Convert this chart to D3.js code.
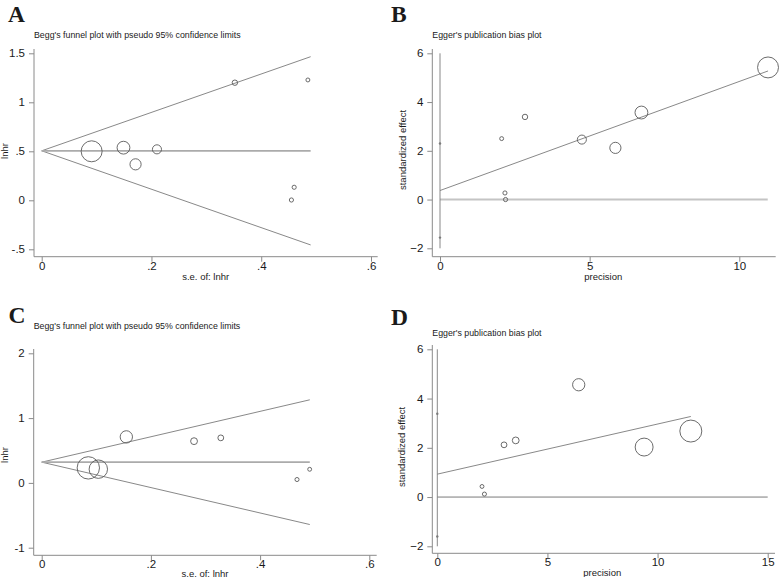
<!DOCTYPE html>
<html>
<head>
<meta charset="utf-8">
<script src="https://cdn.jsdelivr.net/npm/d3@7"></script>
<style>
  html, body { margin: 0; padding: 0; background: #fff; }
  svg { display: block; }
  text { font-family: "Liberation Sans", Arial, sans-serif; fill: #1a1a1a; }
</style>
</head>
<body>
<svg id="chart" width="779" height="577"></svg>
<script>
// ---------------- DATA ----------------
// Panel A: Begg's funnel plot (s.e. of lnhr vs lnhr)
const aSe     = [0.091, 0.149, 0.171, 0.210, 0.352, 0.485, 0.460, 0.455];
const aLnhr   = [0.500, 0.537, 0.367, 0.520, 1.200, 1.228, 0.133, 0.003];
const aPooled = 0.505;
const aSeMax  = 0.49;
const aXTicks = [0, 0.2, 0.4, 0.6];
const aXTickLabels = ["0", ".2", ".4", ".6"];
const aYTicks = [-0.5, 0, 0.5, 1, 1.5];
const aYTickLabels = ["-.5", "0", ".5", "1", "1.5"];

// Panel B: Egger's publication bias plot
const bPrecision = [10.96, 6.73, 5.86, 4.74, 2.84, 2.06, 2.17, 2.19];
const bEffect    = [5.42, 3.57, 2.12, 2.46, 3.39, 2.50, 0.27, 0.00];
const bIntercept = 0.37;
const bSlope     = 0.4475;
const bInterceptCI = [-1.56, 2.30];
const bXTicks = [0, 5, 10];
const bYTicks = [-2, 0, 2, 4, 6];

// Panel C: Begg's funnel plot
const cSe     = [0.0854, 0.1037, 0.155, 0.279, 0.328, 0.4676, 0.4908];
const cLnhr   = [0.232, 0.212, 0.710, 0.644, 0.695, 0.052, 0.210];
const cPooled = 0.32;
const cSeMax  = 0.491;
const cXTicks = [0, 0.2, 0.4, 0.6];
const cXTickLabels = ["0", ".2", ".4", ".6"];
const cYTicks = [-1, 0, 1, 2];
const cYTickLabels = ["-1", "0", "1", "2"];

// Panel D: Egger's publication bias plot
const dPrecision = [11.51, 9.39, 6.42, 3.56, 3.03, 2.14, 2.03];
const dEffect    = [2.68, 2.03, 4.56, 2.30, 2.12, 0.12, 0.43];
const dIntercept = 0.93;
const dSlope     = 0.2035;
const dInterceptCI = [-1.60, 3.38];
const dXTicks = [0, 5, 10, 15];
const dYTicks = [-2, 0, 2, 4, 6];

const Z95 = 1.96;

// ---------------- LAYOUT ----------------
const svg = d3.select("#chart");
const COL_AXIS = "#8a8a8a";
const COL_LINE = "#7a7a7a";
const COL_MARK = "#5a5a5a";
const TICK_FONT = 11.5;

const radius = d3.scaleLinear().domain([0, 11]).range([0, 10.5]); // by precision (1/se)

function drawAxes(g, p) {
  // y axis
  const yAx = d3.axisLeft(p.y).tickValues(p.yTicks).tickSize(5).tickPadding(4)
    .tickFormat((d, i) => p.yLabels ? p.yLabels[i] : d3.format("d")(d));
  const gy = g.append("g").attr("transform", `translate(${p.axX},0)`).call(yAx);
  gy.select(".domain").remove();
  gy.append("line").attr("x1", 0).attr("x2", 0).attr("y1", p.axTop).attr("y2", p.axY)
    .attr("stroke", COL_AXIS).attr("stroke-width", 1);
  gy.selectAll(".tick line").attr("stroke", COL_AXIS);
  gy.selectAll(".tick text").attr("font-size", TICK_FONT).attr("fill", "#1a1a1a")
    .style("font-family", "Liberation Sans, Arial, sans-serif");

  // x axis
  const xAx = d3.axisBottom(p.x).tickValues(p.xTicks).tickSize(5).tickPadding(0)
    .tickFormat((d, i) => p.xLabels ? p.xLabels[i] : d3.format("d")(d));
  const gx = g.append("g").attr("transform", `translate(0,${p.axY})`).call(xAx);
  gx.select(".domain").remove();
  gx.append("line").attr("x1", p.axX).attr("x2", p.axRight).attr("y1", 0).attr("y2", 0)
    .attr("stroke", COL_AXIS).attr("stroke-width", 1);
  gx.selectAll(".tick line").attr("stroke", COL_AXIS);
  gx.selectAll(".tick text").attr("font-size", TICK_FONT).attr("fill", "#1a1a1a")
    .style("font-family", "Liberation Sans, Arial, sans-serif");

  // labels
  g.append("text").attr("x", p.letterX).attr("y", p.letterY)
    .text(p.letter)
    .style("font-family", "Liberation Serif, Times New Roman, serif")
    .attr("font-weight", "bold").attr("font-size", 23.5).attr("fill", "#000");
  g.append("text").attr("x", p.axX).attr("y", p.titleY).text(p.title)
    .attr("font-size", 8.8);
  g.append("text").attr("x", p.xLabelX).attr("y", p.xLabelY).attr("text-anchor", "middle")
    .text(p.xLabel).attr("font-size", 9.5);
  g.append("text")
    .attr("transform", `translate(${p.yLabelX},${p.yLabelY}) rotate(-90)`)
    .attr("text-anchor", "middle").text(p.yLabel).attr("font-size", 9.5);
}

function funnelPanel(p, se, lnhr, pooled, seMax) {
  const g = svg.append("g");
  drawAxes(g, p);
  const x = p.x, y = p.y;
  // pseudo 95% limits
  const upper = [[0, pooled], [seMax, pooled + Z95 * seMax]];
  const lower = [[0, pooled], [seMax, pooled - Z95 * seMax]];
  const line = d3.line().x(d => x(d[0])).y(d => y(d[1]));
  g.append("path").attr("d", line(upper)).attr("fill", "none").attr("stroke", COL_LINE).attr("stroke-width", 0.9);
  g.append("path").attr("d", line(lower)).attr("fill", "none").attr("stroke", COL_LINE).attr("stroke-width", 0.9);
  g.append("path").attr("d", line([[0, pooled], [seMax, pooled]])).attr("fill", "none")
    .attr("stroke", "#ababab").attr("stroke-width", 1.8);
  g.selectAll("circle.pt").data(se.map((s, i) => ({ s, v: lnhr[i] })))
    .join("circle").attr("class", "pt")
    .attr("cx", d => x(d.s)).attr("cy", d => y(d.v))
    .attr("r", d => radius(1 / d.s))
    .attr("fill", "none").attr("stroke", COL_MARK).attr("stroke-width", 0.9);
}

function eggerPanel(p, prec, eff, b0, b1, ci, zeroStyle) {
  const g = svg.append("g");
  drawAxes(g, p);
  const x = p.x, y = p.y;
  const line = d3.line().x(d => x(d[0])).y(d => y(d[1]));
  const pmax = d3.max(prec);
  // zero reference line
  g.append("path").attr("d", line([[0, 0], [p.zeroEnd, 0]])).attr("fill", "none")
    .attr("stroke", zeroStyle.color).attr("stroke-width", zeroStyle.width);
  // vertical line at precision 0
  g.append("path").attr("d", line([[0, p.yTicks[0]], [0, p.yTicks[p.yTicks.length - 1]]]))
    .attr("fill", "none").attr("stroke", COL_LINE).attr("stroke-width", 0.9);
  // intercept CI markers
  g.selectAll("circle.ci").data(ci).join("circle").attr("class", "ci")
    .attr("cx", x(0)).attr("cy", d => y(d)).attr("r", 1.2).attr("fill", COL_LINE);
  // regression line
  g.append("path").attr("d", line([[0, b0], [pmax, b0 + b1 * pmax]]))
    .attr("fill", "none").attr("stroke", COL_LINE).attr("stroke-width", 0.9);
  g.selectAll("circle.pt").data(prec.map((pr, i) => ({ pr, v: eff[i] })))
    .join("circle").attr("class", "pt")
    .attr("cx", d => x(d.pr)).attr("cy", d => y(d.v))
    .attr("r", d => radius(d.pr))
    .attr("fill", "none").attr("stroke", COL_MARK).attr("stroke-width", 0.9);
}

// Panel A
funnelPanel({
  letter: "A", letterX: 8, letterY: 22,
  title: "Begg's funnel plot with pseudo 95% confidence limits", titleY: 37.5,
  x: d3.scaleLinear().domain([0, 0.6]).range([41.7, 371]),
  y: d3.scaleLinear().domain([-0.5, 1.5]).range([249.3, 53.3]),
  xTicks: aXTicks, xLabels: aXTickLabels, yTicks: aYTicks, yLabels: aYTickLabels,
  axX: 34, axY: 256.7, axTop: 49, axRight: 377.7,
  xLabel: "s.e. of: lnhr", xLabelX: 205.7, xLabelY: 280,
  yLabel: "lnhr", yLabelX: 7.5, yLabelY: 151
}, aSe, aLnhr, aPooled, aSeMax);

// Panel B
eggerPanel({
  letter: "B", letterX: 391, letterY: 22,
  title: "Egger's publication bias plot", titleY: 37.5,
  x: d3.scaleLinear().domain([0, 10]).range([440, 739.3]),
  y: d3.scaleLinear().domain([-2, 6]).range([248.3, 53.3]),
  xTicks: bXTicks, yTicks: bYTicks,
  axX: 432.3, axY: 256.7, axTop: 49, axRight: 775.7, zeroEnd: 10.95,
  xLabel: "precision", xLabelX: 603.3, xLabelY: 279.5,
  yLabel: "standardized effect", yLabelX: 406, yLabelY: 150
}, bPrecision, bEffect, bIntercept, bSlope, bInterceptCI, { color: "#c4c4c4", width: 2 });

// Panel C
funnelPanel({
  letter: "C", letterX: 8.5, letterY: 323,
  title: "Begg's funnel plot with pseudo 95% confidence limits", titleY: 329,
  x: d3.scaleLinear().domain([0, 0.6]).range([41.7, 369.3]),
  y: d3.scaleLinear().domain([-1, 2]).range([547.7, 353.3]),
  xTicks: cXTicks, xLabels: cXTickLabels, yTicks: cYTicks, yLabels: cYTickLabels,
  axX: 33.7, axY: 555.3, axTop: 349, axRight: 376.7,
  xLabel: "s.e. of: lnhr", xLabelX: 205, xLabelY: 576.5,
  yLabel: "lnhr", yLabelX: 7.5, yLabelY: 455
}, cSe, cLnhr, cPooled, cSeMax);

// Panel D
eggerPanel({
  letter: "D", letterX: 391, letterY: 324.5,
  title: "Egger's publication bias plot", titleY: 335.5,
  x: d3.scaleLinear().domain([0, 15]).range([437.3, 767.7]),
  y: d3.scaleLinear().domain([-2, 6]).range([546.3, 349.3]),
  xTicks: dXTicks, yTicks: dYTicks,
  axX: 432.3, axY: 553.3, axTop: 345, axRight: 775, zeroEnd: 15,
  xLabel: "precision", xLabelX: 602.3, xLabelY: 576,
  yLabel: "standardized effect", yLabelX: 405, yLabelY: 447
}, dPrecision, dEffect, dIntercept, dSlope, dInterceptCI, { color: "#7a7a7a", width: 1 });
</script>
</body>
</html>
